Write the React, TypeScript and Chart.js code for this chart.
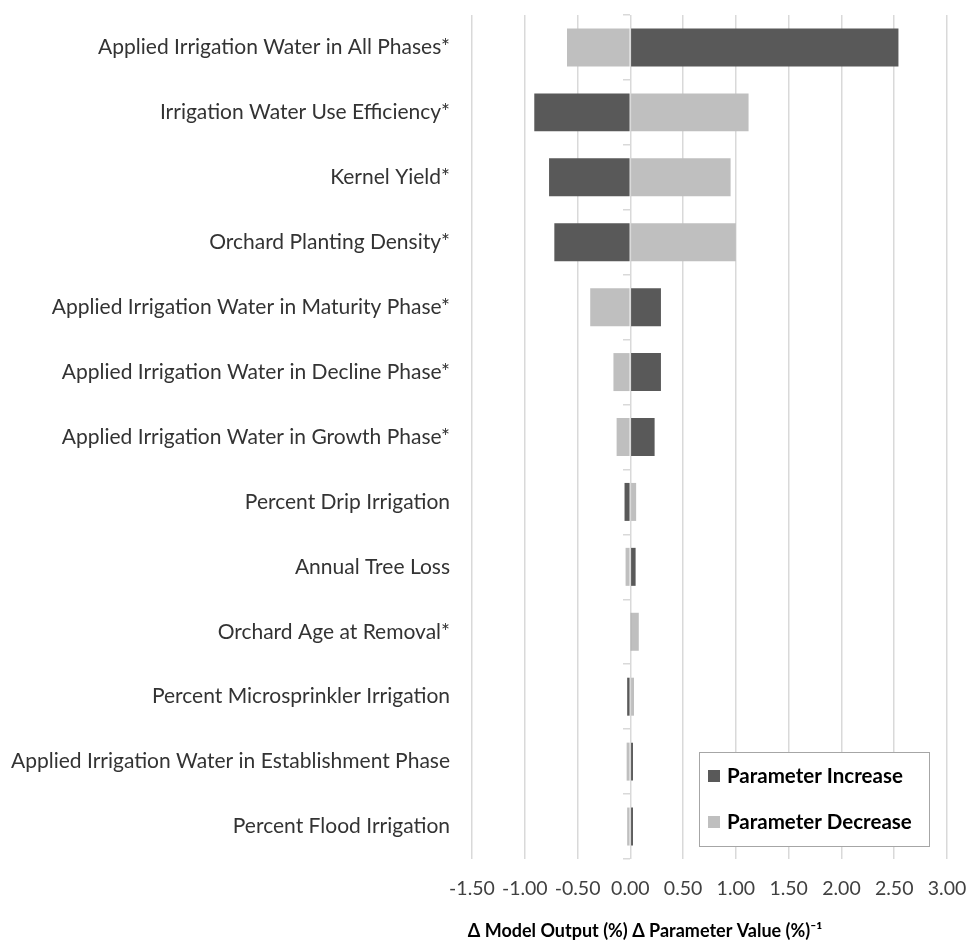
import React, { useEffect, useRef } from 'react';
import { Chart, registerables } from 'chart.js';

Chart.register(...registerables);

const categories = [
  'Applied Irrigation Water in All Phases*',
  'Irrigation Water Use Efficiency*',
  'Kernel Yield*',
  'Orchard Planting Density*',
  'Applied Irrigation Water in Maturity Phase*',
  'Applied Irrigation Water in Decline Phase*',
  'Applied Irrigation Water in Growth Phase*',
  'Percent Drip Irrigation',
  'Annual Tree Loss',
  'Orchard Age at Removal*',
  'Percent Microsprinkler Irrigation',
  'Applied Irrigation Water in Establishment Phase',
  'Percent Flood Irrigation',
];

const increaseValues = [2.54, -0.91, -0.77, -0.72, 0.29, 0.29, 0.23, -0.055, 0.05, 0.005, -0.03, 0.025, 0.025];
const decreaseValues = [-0.6, 1.12, 0.95, 1.0, -0.38, -0.16, -0.13, 0.055, -0.045, 0.08, 0.035, -0.035, -0.03];

const seriesNames = ['Parameter Increase', 'Parameter Decrease'];
const seriesColors = ['#595959', '#bfbfbf'];
const xMin = -1.5;
const xMax = 3.0;
const xStep = 0.5;
const axisTitle = 'Δ Model Output (%) Δ Parameter Value (%)⁻¹';

const FONT = 'Lato, "Open Sans", sans-serif';

const legendAndTitle = {
  id: 'legendAndTitle',
  afterDraw(chart: any) {
    const ctx = chart.ctx as CanvasRenderingContext2D;
    const ca = chart.chartArea;
    ctx.save();
    // legend box
    const w = 230;
    const h = 94;
    const bx = ca.right - 18 - w;
    const by = ca.bottom - 13 - h;
    ctx.fillStyle = '#ffffff';
    ctx.fillRect(bx, by, w, h);
    ctx.strokeStyle = '#a6a6a6';
    ctx.lineWidth = 1;
    ctx.strokeRect(Math.round(bx) + 0.5, Math.round(by) + 0.5, w, h);
    ctx.font = 'bold 20.5px ' + FONT;
    ctx.textBaseline = 'middle';
    ctx.textAlign = 'left';
    chart.data.datasets.forEach((ds: any, i: number) => {
      const cy = by + 24 + i * 46;
      ctx.fillStyle = ds.backgroundColor;
      ctx.fillRect(bx + 9, cy - 6, 12, 12);
      ctx.fillStyle = '#000000';
      ctx.fillText(ds.label, bx + 28, cy);
    });
    // axis title
    ctx.font = 'bold 18px ' + FONT;
    ctx.fillStyle = '#000000';
    ctx.textAlign = 'center';
    ctx.fillText(axisTitle, 645, 931);
    ctx.restore();
  },
};

export default function App() {
  const ref = useRef<HTMLCanvasElement | null>(null);

  useEffect(() => {
    if (!ref.current) return;
    const chart = new Chart(ref.current, {
      type: 'bar',
      data: {
        labels: categories,
        datasets: [
          {
            label: seriesNames[0],
            data: increaseValues,
            backgroundColor: seriesColors[0],
            grouped: false,
            categoryPercentage: 1,
            barPercentage: 0.585,
          } as any,
          {
            label: seriesNames[1],
            data: decreaseValues,
            backgroundColor: seriesColors[1],
            grouped: false,
            categoryPercentage: 1,
            barPercentage: 0.585,
          } as any,
        ],
      },
      options: {
        indexAxis: 'y',
        animation: false,
        responsive: true,
        maintainAspectRatio: false,
        layout: { padding: { top: 15, right: 21, bottom: 47, left: 0 } },
        plugins: {
          legend: { display: false },
          tooltip: { enabled: false },
        },
        scales: {
          x: {
            type: 'linear',
            min: xMin,
            max: xMax,
            ticks: {
              stepSize: xStep,
              padding: 18,
              color: '#404040',
              font: { family: FONT, size: 19.5 },
              callback: (v: any) => Number(v).toFixed(2),
            },
            grid: { color: '#d9d9d9', drawTicks: false, lineWidth: 1.5 },
            border: { display: false },
            afterFit: (s: any) => {
              s.height = 40;
              s.paddingLeft = 0;
              s.paddingRight = 0;
            },
          },
          y: {
            type: 'category',
            position: 'left',
            ticks: {
              padding: 22,
              color: '#333333',
              font: { family: FONT, size: 21 },
            },
            grid: { display: false, drawTicks: false },
            border: { display: false },
            afterFit: (s: any) => {
              s.width = 472;
              s.paddingTop = 0;
              s.paddingBottom = 0;
            },
          },
          y2: {
            type: 'category',
            position: { x: 0 } as any,
            ticks: { display: false },
            grid: {
              offset: true,
              drawOnChartArea: false,
              tickLength: 7,
              color: '#d9d9d9',
              lineWidth: 1.5,
            },
            border: { display: false },
            afterFit: (s: any) => {
              s.paddingTop = 0;
              s.paddingBottom = 0;
            },
          },
        },
      } as any,
      plugins: [legendAndTitle],
    });
    return () => chart.destroy();
  }, []);

  return (
    <div style={{ position: 'fixed', left: 0, top: 0, width: 968, height: 946, background: '#ffffff' }}>
      <canvas ref={ref} />
    </div>
  );
}
